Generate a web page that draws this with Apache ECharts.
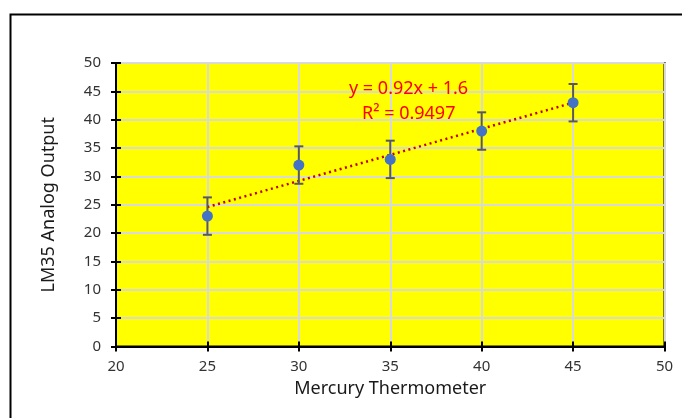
<!DOCTYPE html>
<html>
<head>
<meta charset="utf-8">
<script src="https://cdn.jsdelivr.net/npm/echarts@6/dist/echarts.min.js"></script>
<style>html,body{margin:0;padding:0;background:#fff}#c{width:682px;height:418px}</style>
</head>
<body>
<div id="c"></div>
<script>
var xValues = [25, 30, 35, 40, 45];
var yValues = [23, 32, 33, 38, 43];
var errValues = [3.3, 3.3, 3.3, 3.3, 3.3];
var trendX = [25, 45];
var trendY = [24.6, 43.0];
var equationLines = ['y = 0.92x + 1.6', 'R² = 0.9497'];
var xTitle = 'Mercury Thermometer';
var yTitle = 'LM35 Analog Output';

var FONT = '"Noto Sans", sans-serif';
var chart = echarts.init(document.getElementById('c'), null, {renderer: 'canvas'});

var pts = xValues.map(function (x, i) { return [x, yValues[i]]; });
var errData = xValues.map(function (x, i) { return [x, yValues[i] - errValues[i], yValues[i] + errValues[i]]; });
var trendData = trendX.map(function (x, i) { return [x, trendY[i]]; });

function axisBase() {
  return {
    axisLine: {show: true, onZero: false, lineStyle: {color: '#000', width: 2}},
    axisTick: {show: true, length: 5, lineStyle: {color: '#000', width: 2}},
    axisLabel: {color: '#333333', fontFamily: FONT, fontSize: 15},
    splitLine: {show: true, lineStyle: {color: '#D9D9D9', width: 2}}
  };
}

var xMain = Object.assign(axisBase(), {
  type: 'value', min: 20, max: 50, interval: 5, position: 'bottom',
  name: xTitle, nameLocation: 'middle', nameGap: 31,
  nameTextStyle: {color: '#1a1a1a', fontFamily: FONT, fontSize: 18}
});
xMain.axisLabel.margin = 13;
var yMain = Object.assign(axisBase(), {
  type: 'value', min: 0, max: 50, interval: 5, position: 'left',
  name: yTitle, nameLocation: 'middle', nameGap: 58,
  nameTextStyle: {color: '#1a1a1a', fontFamily: FONT, fontSize: 18}
});
yMain.axisLabel.margin = 15;

var xInner = {type: 'value', min: 20, max: 50, interval: 5, position: 'bottom',
  axisLine: {show: false}, axisLabel: {show: false}, splitLine: {show: false},
  axisTick: {show: true, inside: true, length: 5, lineStyle: {color: '#000', width: 2}}};
var yInner = {type: 'value', min: 0, max: 50, interval: 5, position: 'left',
  axisLine: {show: false}, axisLabel: {show: false}, splitLine: {show: false},
  axisTick: {show: true, inside: true, length: 5, lineStyle: {color: '#000', width: 2}}};

chart.setOption({
  animation: false,
  backgroundColor: '#ffffff',
  grid: {left: 116, top: 63, right: 17.5, bottom: 71.5, show: true,
    backgroundColor: '#FFFF00', borderColor: '#000', borderWidth: 2},
  xAxis: [xMain, xInner],
  yAxis: [yMain, yInner],
  graphic: [
    {type: 'rect', left: 8, top: 12, shape: {width: 700, height: 450},
      style: {fill: 'none', stroke: '#000', lineWidth: 2}, silent: true, z: 100},
    {type: 'text', left: 349, top: 80, style: {text: equationLines[0], fill: '#FF0000',
      font: '18px "Noto Sans", sans-serif'}, z: 100},
    {type: 'text', left: 362, top: 105, style: {text: equationLines[1], fill: '#FF0000',
      font: '18px "Noto Sans", sans-serif'}, z: 100}
  ],
  series: [
    {type: 'line', data: trendData, showSymbol: false, symbol: 'none',
      lineStyle: {color: '#C00000', width: 2.5, type: [2, 3.5]}, z: 3},
    {type: 'custom', data: errData, z: 4,
      renderItem: function (params, api) {
        var x = api.value(0);
        var lo = api.coord([x, api.value(1)]);
        var hi = api.coord([x, api.value(2)]);
        var cw = 4.5;
        var st = {stroke: '#595959', lineWidth: 2};
        return {type: 'group', children: [
          {type: 'line', shape: {x1: lo[0], y1: lo[1], x2: hi[0], y2: hi[1]}, style: st},
          {type: 'line', shape: {x1: lo[0] - cw, y1: lo[1], x2: lo[0] + cw, y2: lo[1]}, style: st},
          {type: 'line', shape: {x1: hi[0] - cw, y1: hi[1], x2: hi[0] + cw, y2: hi[1]}, style: st}
        ]};
      }},
    {type: 'scatter', data: pts, symbol: 'circle', symbolSize: 11,
      itemStyle: {color: '#4472C4', opacity: 1}, z: 5}
  ]
});
</script>
</body>
</html>
